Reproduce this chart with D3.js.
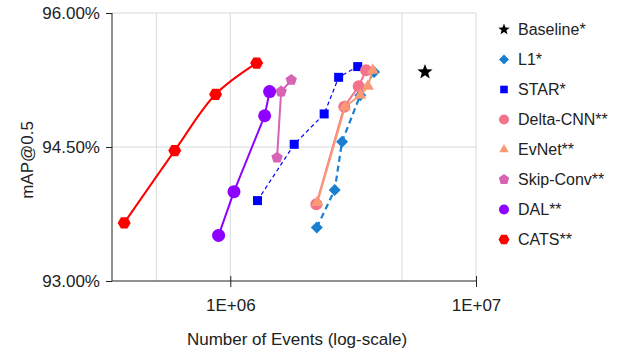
<!DOCTYPE html>
<html>
<head>
<meta charset="utf-8">
<script src="https://cdn.jsdelivr.net/npm/d3@7"></script>
<style>
  body { margin: 0; background: #fff; }
  svg text { font-family: "Liberation Sans", Arial, sans-serif; fill: #222; }
</style>
</head>
<body>
<svg id="chart" width="620" height="352"></svg>
<script>
// Series names (legend order)
var seriesNames = ["Baseline*", "L1*", "STAR*", "Delta-CNN**", "EvNet**", "Skip-Conv**", "DAL**", "CATS**"];

// Number of events per point
var baselineEvents = [6.2e6];
var l1Events = [2.25e6, 2.66e6, 2.85e6, 3.38e6, 3.85e6];
var starEvents = [1.29e6, 1.82e6, 2.41e6, 2.76e6, 3.30e6];
var deltaEvents = [2.24e6, 2.91e6, 3.33e6, 3.57e6];
var evnetEvents = [2.26e6, 2.93e6, 3.38e6, 3.63e6, 3.80e6];
var skipEvents = [1.55e6, 1.61e6, 1.77e6];
var dalEvents = [8.96e5, 1.035e6, 1.38e6, 1.445e6];
var catsEvents = [3.70e5, 5.94e5, 8.71e5, 1.28e6];

// mAP@0.5 (%)
var baselineMap = [95.34];
var l1Map = [93.60, 94.02, 94.56, 95.08, 95.34];
var starMap = [93.90, 94.53, 94.87, 95.28, 95.40];
var deltaMap = [93.86, 94.95, 95.18, 95.36];
var evnetMap = [93.88, 94.95, 95.08, 95.18, 95.36];
var skipMap = [94.38, 95.12, 95.25];
var dalMap = [93.51, 94.00, 94.85, 95.12];
var catsMap = [93.65, 94.46, 95.09, 95.44];

// Axis ticks
var yTicks = [93.0, 94.5, 96.0];
var xTicks = [1e6, 1e7];
var xGrid = [5e5, 1e6, 5e6, 1e7];

var plotLeft = 112, plotRight = 476, plotTop = 13, plotBottom = 281;

var svg = d3.select('#chart');

var x = d3.scaleLog().domain([3.3e5, 1e7]).range([plotLeft, plotRight]);
var y = d3.scaleLinear().domain([93, 96]).range([plotBottom, plotTop]);

// Marker path by shape, centred at 0,0
function markerPath(shape, r) {
    if (shape === 'circle') {
        return d3.symbol().type(d3.symbolCircle).size(Math.PI * r * r)();
    }
    if (shape === 'square') {
        return 'M' + (-r) + ',' + (-r) + 'H' + r + 'V' + r + 'H' + (-r) + 'Z';
    }
    if (shape === 'diamond') {
        return 'M0,' + (-r) + 'L' + r + ',0L0,' + r + 'L' + (-r) + ',0Z';
    }
    var n, rot, inner = null;
    if (shape === 'triangle') { n = 3; rot = -Math.PI / 2; }
    if (shape === 'pentagon') { n = 5; rot = -Math.PI / 2; }
    if (shape === 'hexagon') { n = 6; rot = 0; }
    if (shape === 'star') { n = 5; rot = -Math.PI / 2; inner = r * 0.42; }
    var pts = [];
    if (inner) {
        for (var i = 0; i < n * 2; i++) {
            var a = rot + i * Math.PI / n;
            var rr = i % 2 === 0 ? r : inner;
            pts.push([rr * Math.cos(a), rr * Math.sin(a)]);
        }
    } else {
        for (var j = 0; j < n; j++) {
            var b = rot + j * 2 * Math.PI / n;
            pts.push([r * Math.cos(b), r * Math.sin(b)]);
        }
    }
    return 'M' + pts.map(function(p) { return p[0].toFixed(2) + ',' + p[1].toFixed(2); }).join('L') + 'Z';
}

var series = [
    { name: seriesNames[0], xs: baselineEvents, ys: baselineMap, color: '#000000', shape: 'star', r: 8, lr: 6, line: null },
    { name: seriesNames[1], xs: l1Events, ys: l1Map, color: '#1a7fd0', shape: 'diamond', r: 6, lr: 5, line: { w: 2.2, dash: '6,4', smooth: false } },
    { name: seriesNames[2], xs: starEvents, ys: starMap, color: '#0000ff', shape: 'square', r: 4.5, lr: 3.8, line: { w: 1.2, dash: '4,3', smooth: false } },
    { name: seriesNames[3], xs: deltaEvents, ys: deltaMap, color: '#f4738a', shape: 'circle', r: 6, lr: 5, line: { w: 2, dash: null, smooth: false } },
    { name: seriesNames[4], xs: evnetEvents, ys: evnetMap, color: '#f89a74', shape: 'triangle', r: 7, lr: 5.5, line: { w: 2, dash: null, smooth: false } },
    { name: seriesNames[5], xs: skipEvents, ys: skipMap, color: '#d663b4', shape: 'pentagon', r: 6, lr: 5.5, line: { w: 2, dash: null, smooth: false } },
    { name: seriesNames[6], xs: dalEvents, ys: dalMap, color: '#8e00ff', shape: 'circle', r: 6.5, lr: 5, line: { w: 2, dash: null, smooth: false } },
    { name: seriesNames[7], xs: catsEvents, ys: catsMap, color: '#ff0000', shape: 'hexagon', r: 6.5, lr: 5.5, line: { w: 2, dash: null, smooth: true } }
];

// Gridlines
svg.append('g')
    .selectAll('line')
    .data(xGrid)
    .enter().append('line')
    .attr('x1', function(d) { return x(d); })
    .attr('x2', function(d) { return x(d); })
    .attr('y1', plotTop)
    .attr('y2', plotBottom)
    .attr('stroke', '#d9d9d9')
    .attr('stroke-width', 1);

svg.append('g')
    .selectAll('line')
    .data(yTicks.slice(1))
    .enter().append('line')
    .attr('x1', plotLeft)
    .attr('x2', plotRight)
    .attr('y1', function(d) { return y(d); })
    .attr('y2', function(d) { return y(d); })
    .attr('stroke', '#d9d9d9')
    .attr('stroke-width', 1);

// Y axis
var yAxis = svg.append('g')
    .attr('transform', 'translate(' + plotLeft + ',0)')
    .call(d3.axisLeft(y).tickValues(yTicks).tickSize(6).tickPadding(6)
        .tickFormat(function(d) { return d.toFixed(2) + '%'; }));
yAxis.select('.domain').attr('stroke', '#222').attr('d', 'M0,' + plotTop + 'V' + plotBottom);
yAxis.selectAll('.tick line').attr('stroke', '#222');
yAxis.selectAll('text').style('font-size', '17px').attr('fill', '#222');

// X axis
var xAxis = svg.append('g')
    .attr('transform', 'translate(0,' + plotBottom + ')')
    .call(d3.axisBottom(x).tickValues(xTicks).tickSize(6).tickPadding(12)
        .tickFormat(function(d) { return '1E+0' + Math.round(Math.log10(d)); }));
xAxis.select('.domain').attr('stroke', '#222').attr('d', 'M' + plotLeft + ',0H' + plotRight);
xAxis.selectAll('.tick line').attr('stroke', '#222').attr('y1', -5);
xAxis.selectAll('text').style('font-size', '17px').attr('fill', '#222');

// Axis titles
svg.append('text')
    .attr('transform', 'translate(33,160) rotate(-90)')
    .attr('text-anchor', 'middle')
    .style('font-size', '17px')
    .text('mAP@0.5');

svg.append('text')
    .attr('x', 297)
    .attr('y', 345)
    .attr('text-anchor', 'middle')
    .style('font-size', '17px')
    .text('Number of Events (log-scale)');

// Lines and markers
var lineStraight = d3.line()
    .x(function(d) { return x(d[0]); })
    .y(function(d) { return y(d[1]); });

var lineSmooth = d3.line()
    .x(function(d) { return x(d[0]); })
    .y(function(d) { return y(d[1]); })
    .curve(d3.curveCatmullRom.alpha(0.5));

series.forEach(function(s) {
    var pts = s.xs.map(function(v, i) { return [v, s.ys[i]]; });
    var g = svg.append('g').attr('class', 'series');
    if (s.line) {
        g.append('path')
            .datum(pts)
            .attr('d', s.line.smooth ? lineSmooth : lineStraight)
            .attr('fill', 'none')
            .attr('stroke', s.color)
            .attr('stroke-width', s.line.w)
            .attr('stroke-dasharray', s.line.dash);
    }
    g.selectAll('path.marker')
        .data(pts)
        .enter().append('path')
        .attr('class', 'marker')
        .attr('transform', function(d) { return 'translate(' + x(d[0]) + ',' + y(d[1]) + ')'; })
        .attr('d', markerPath(s.shape, s.r))
        .attr('fill', s.color);
});

// Legend
var legend = svg.append('g')
    .attr('class', 'legend')
    .selectAll('g')
    .data(series)
    .enter().append('g')
    .attr('transform', function(d, i) { return 'translate(504,' + (29.5 + i * 30) + ')'; });

legend.append('path')
    .attr('d', function(d) { return markerPath(d.shape, d.lr); })
    .attr('fill', function(d) { return d.color; });

legend.append('text')
    .attr('x', 14)
    .attr('y', 0)
    .attr('dy', '.36em')
    .style('font-size', '16px')
    .text(function(d) { return d.name; });
</script>
</body>
</html>
